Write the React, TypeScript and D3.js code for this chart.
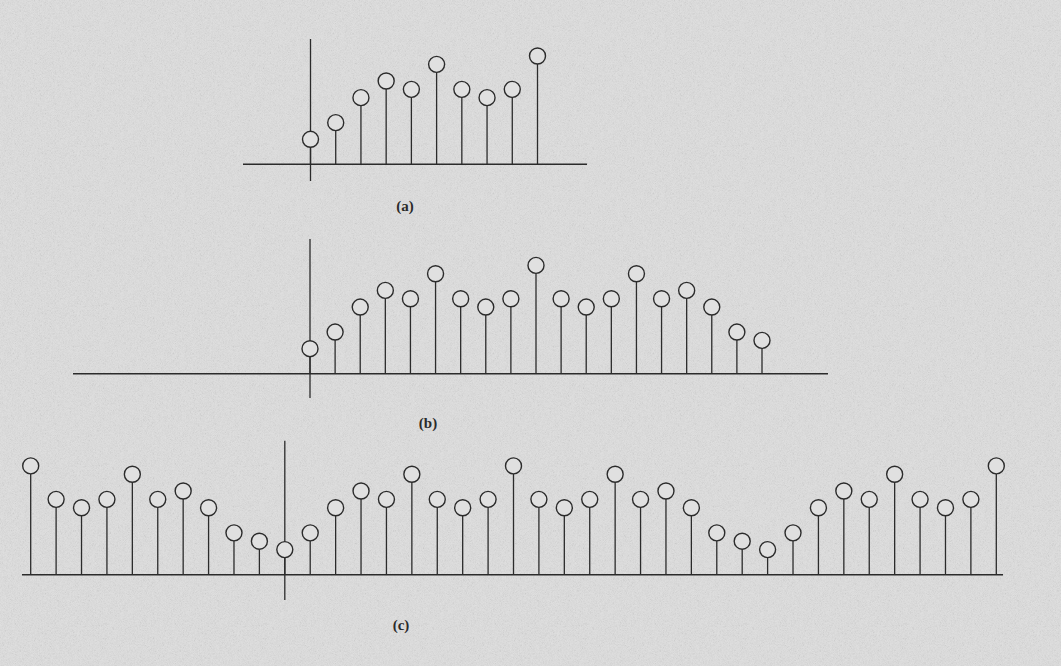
import React from "react";
import * as d3 from "d3";

// Sequence values
const A_INDEX = d3.range(0, 10);
const A_VALUES = [3, 5, 8, 10, 9, 12, 9, 8, 9, 13];

const B_INDEX = d3.range(0, 19);
const B_VALUES = [3, 5, 8, 10, 9, 12, 9, 8, 9, 13, 9, 8, 9, 12, 9, 10, 8, 5, 4];

const C_INDEX = d3.range(-10, 29);
const C_VALUES = [
  13, 9, 8, 9, 12, 9, 10, 8, 5, 4,
  3, 5, 8, 10, 9, 12, 9, 8, 9, 13, 9, 8, 9, 12, 9, 10, 8, 5, 4,
  3, 5, 8, 10, 9, 12, 9, 8, 9, 13,
];

const PANEL_LABELS = ["(a)", "(b)", "(c)"];

const W = 1061;
const H = 666;
const INK = "#2b2b2b";
const BG = "#e0e0e0";
const R = 8;

type Panel = {
  index: number[];
  values: number[];
  label: string;
  xFirst: number;
  xLast: number;
  baseline: number;
  unit: number;
  axisLeft: number;
  axisRight: number;
  vTop: number;
  vBottom: number;
  labelX: number;
  labelY: number;
};

const panels: Panel[] = [
  {
    index: A_INDEX, values: A_VALUES, label: PANEL_LABELS[0],
    xFirst: 310.5, xLast: 537.5, baseline: 164.3, unit: 8.33,
    axisLeft: 243, axisRight: 587, vTop: 39, vBottom: 181,
    labelX: 405, labelY: 211,
  },
  {
    index: B_INDEX, values: B_VALUES, label: PANEL_LABELS[1],
    xFirst: 310, xLast: 762, baseline: 373.7, unit: 8.33,
    axisLeft: 73, axisRight: 828, vTop: 239, vBottom: 398,
    labelX: 428, labelY: 428,
  },
  {
    index: C_INDEX, values: C_VALUES, label: PANEL_LABELS[2],
    xFirst: 30.7, xLast: 996.3, baseline: 574.7, unit: 8.37,
    axisLeft: 22, axisRight: 1003, vTop: 440.7, vBottom: 600,
    labelX: 401, labelY: 630,
  },
];

function StemPanel({ p }: { p: Panel }) {
  const x = d3
    .scaleLinear()
    .domain([p.index[0], p.index[p.index.length - 1]])
    .range([p.xFirst, p.xLast]);
  const y = d3.scaleLinear().domain([0, 1]).range([p.baseline, p.baseline - p.unit]);
  return (
    <g>
      <line x1={p.axisLeft} x2={p.axisRight} y1={p.baseline} y2={p.baseline} stroke={INK} strokeWidth={1.5} />
      <line x1={x(0)} x2={x(0)} y1={p.vTop} y2={p.vBottom} stroke={INK} strokeWidth={1.3} />
      {p.index.map((n, i) => (
        <g key={n}>
          <line x1={x(n)} x2={x(n)} y1={p.baseline} y2={y(p.values[i]) + R} stroke={INK} strokeWidth={1.3} />
          <circle cx={x(n)} cy={y(p.values[i])} r={R} fill={BG} stroke={INK} strokeWidth={1.4} />
        </g>
      ))}
      <text
        x={p.labelX}
        y={p.labelY}
        textAnchor="middle"
        fontFamily="'Liberation Serif', 'DejaVu Serif', serif"
        fontWeight="bold"
        fontSize={15}
        fill={INK}
      >
        {p.label}
      </text>
    </g>
  );
}

export default function App() {
  return (
    <svg
      width={W}
      height={H}
      viewBox={`0 0 ${W} ${H}`}
      style={{ position: "absolute", left: 0, top: 0, display: "block" }}
    >
      <defs>
        <filter id="grain" x="0" y="0" width="100%" height="100%">
          <feTurbulence type="fractalNoise" baseFrequency="1.6" numOctaves="1" seed="7" />
          <feColorMatrix type="saturate" values="0" />
        </filter>
      </defs>
      <rect x={0} y={0} width={W} height={H} fill={BG} />
      <rect x={0} y={0} width={W} height={H} filter="url(#grain)" opacity={0.35} />
      {panels.map((p) => (
        <StemPanel key={p.label} p={p} />
      ))}
    </svg>
  );
}
